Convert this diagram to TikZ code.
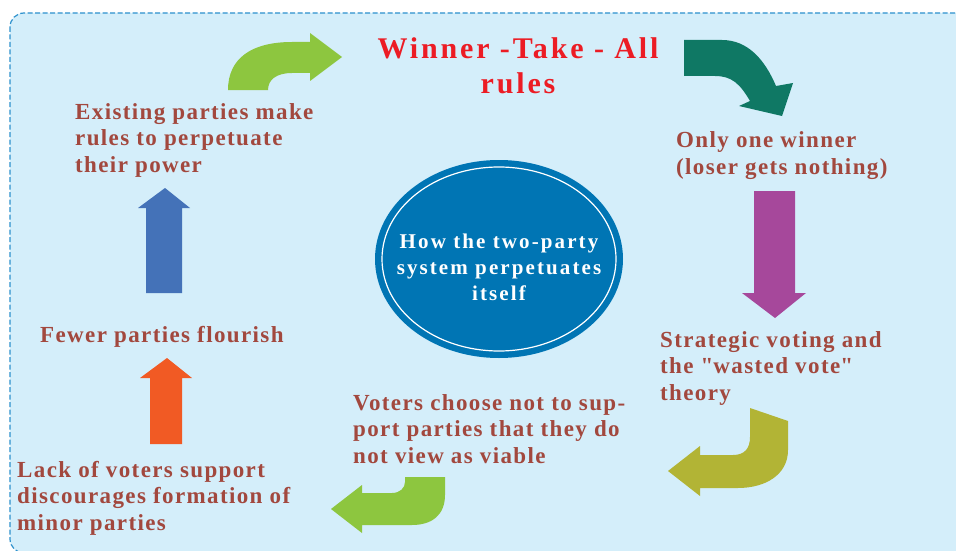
\documentclass[tikz,border=0pt]{standalone}
\usepackage{fontspec}
\setmainfont{Liberation Serif}[LetterSpace=6]
\usetikzlibrary{positioning}

\definecolor{bgblue}{RGB}{212,238,250}
\definecolor{edgeblue}{RGB}{45,145,205}
\definecolor{txtbrown}{RGB}{162,72,62}
\definecolor{ttlred}{RGB}{236,28,36}
\definecolor{discblue}{RGB}{0,117,180}
\definecolor{leafgreen}{RGB}{141,198,63}
\definecolor{tealgreen}{RGB}{15,120,100}
\definecolor{plum}{RGB}{166,72,155}
\definecolor{olive}{RGB}{178,180,53}
\definecolor{flame}{RGB}{241,90,36}
\definecolor{steel}{RGB}{68,114,184}

\begin{document}
\begin{tikzpicture}[
  x=1pt, y=-1pt,
  stagetxt/.style={text=txtbrown, font={\bfseries\fontsize{23}{26.5}\selectfont}, align=left, anchor=base west, inner sep=0pt},
  ttl/.style={text=ttlred, font={\bfseries\fontsize{30}{35}\selectfont\addfontfeatures{LetterSpace=9.5}}, align=center, anchor=base, inner sep=0pt},
  hub/.style={text=white, font={\bfseries\fontsize{21}{26}\selectfont\addfontfeatures{LetterSpace=10}}, align=center, anchor=base, inner sep=0pt},
  blk/.style={fill=#1, draw=none}
]
\useasboundingbox (0,0) rectangle (956,551);
\clip (0,0) rectangle (956,551);
\fill[white] (0,0) rectangle (956,551);

% dashed frame, runs off right and bottom
\draw[edgeblue, fill=bgblue, line width=1.2pt, dash pattern=on 5pt off 2.5pt, rounded corners=14pt] (10,13) rectangle (975,553);

% centre disc
\fill[discblue] (499,259) ellipse [x radius=124, y radius=99];
\draw[white, line width=1.2pt] (499,259) ellipse [x radius=117, y radius=92];
\node[hub] (hub) at (499,300) {How the two-party\\system perpetuates\\itself};

% texts round the cycle (anchored at last baseline)
\node[ttl] (rules) at (518,93) {Winner -Take - All\\rules};
\node[stagetxt] (winner) at (676,174) {Only one winner\\(loser gets nothing)};
\node[stagetxt] (strat) at (660,400) {Strategic voting and\\the \textquotedbl wasted vote\textquotedbl\\theory};
\node[stagetxt] (voters) at (353,463) {Voters choose not to sup-\\port parties that they do\\not view as viable};
\node[stagetxt] (lack) at (17,530) {Lack of voters support\\discourages formation of\\minor parties};
\node[stagetxt] (fewer) at (40,342) {Fewer parties flourish};
\node[stagetxt] (exist) at (75,172) {Existing parties make\\rules to perpetuate\\their power};

% block arrows
\fill[blk=leafgreen] (228,90) .. controls (228,58) and (252,42) .. (292,42) -- (310,42) -- (310,33)
  -- (342,57) -- (310,81) -- (310,73) -- (292,73) .. controls (276,73) and (268,80) .. (268,90) -- cycle;
\fill[blk=tealgreen] (684,40) -- (722,40) .. controls (748,40) and (765,60) .. (776,86) -- (793,83)
  -- (782,116) -- (739,106) -- (750,101) .. controls (740,84) and (732,76) .. (715,76) -- (684,76) -- cycle;
\fill[blk=plum] (754,191) -- (795,191) -- (795,293) -- (806,293) -- (775,318) -- (742,293) -- (754,293) -- cycle;
\fill[blk=olive] (750,408) -- (788,421) -- (788,450) .. controls (788,475) and (765,488) .. (738,488)
  -- (700,488) -- (700,496) -- (668,471) -- (700,446) -- (700,455) -- (733,455)
  .. controls (745,455) and (750,448) .. (750,437) -- cycle;
\fill[blk=leafgreen] (405,477) -- (445,477) -- (445,495) .. controls (445,515) and (432,525) .. (412,525)
  -- (362,525) -- (362,533) -- (331,509) -- (362,485) -- (362,493) -- (392,493)
  .. controls (400,493) and (405,488) .. (405,482) -- cycle;
\fill[blk=flame] (150,444) -- (182,444) -- (182,378) -- (192,378) -- (167,358) -- (140,378) -- (150,378) -- cycle;
\fill[blk=steel] (146,293) -- (182,293) -- (182,208) -- (190,208) -- (165,188) -- (138,208) -- (146,208) -- cycle;

\end{tikzpicture}
\end{document}
